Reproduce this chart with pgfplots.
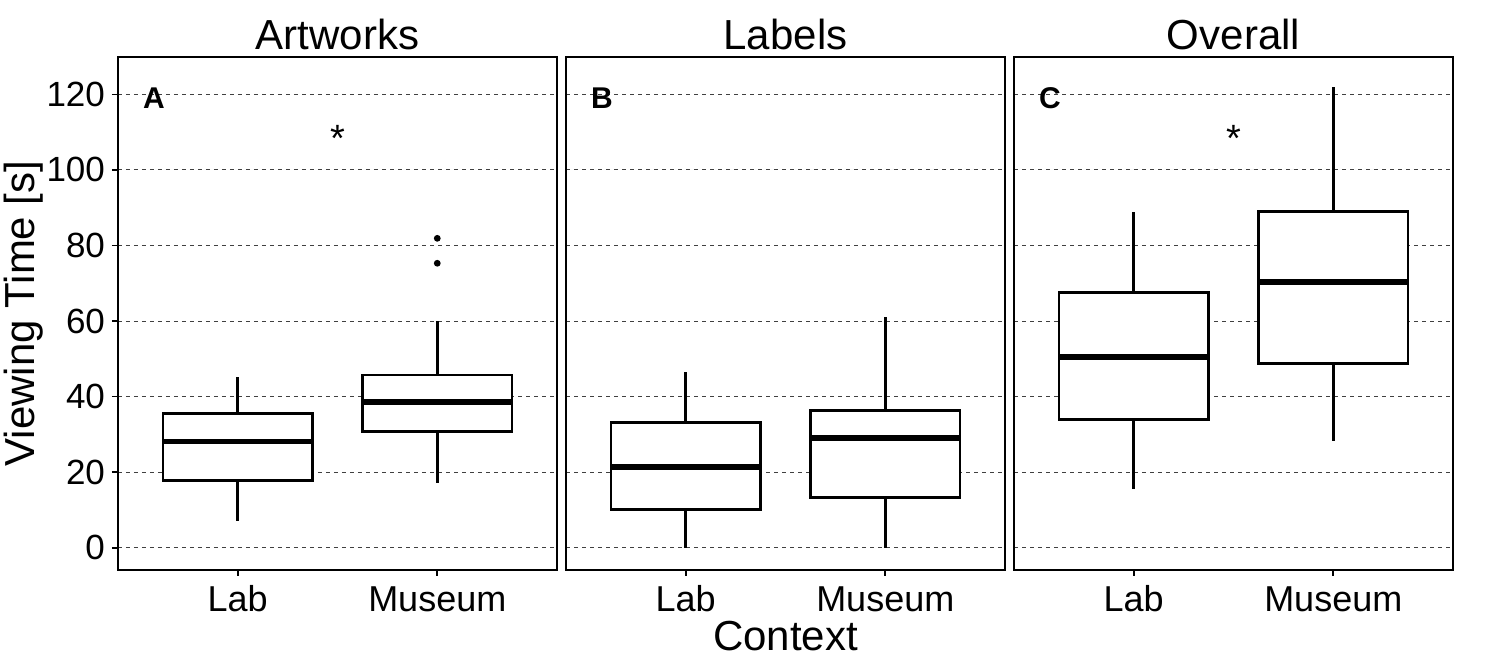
\documentclass[border=0pt]{standalone}
\usepackage{pgfplots}
\pgfplotsset{compat=1.18}
\usepgfplotslibrary{statistics}
\usepackage{fontspec}
\setmainfont{Liberation Sans}

\pgfplotsset{
  panel/.style={
    scale only axis, width=219.5pt, height=256.5pt,
    xmin=0.4, xmax=2.6, ymin=-5.9, ymax=129.9,
    xtick={1,2}, xticklabels={Lab,Museum},
    ytick={0,20,40,60,80,100,120},
    ymajorgrids, grid style={dash pattern=on 2pt off 2pt, line width=0.5pt, black!75},
    axis line style={line width=0.8pt, black},
    tick align=outside, xtick pos=bottom, ytick pos=left,
    major tick length=3pt,
    tick style={line width=0.8pt, black},
    xticklabel style={font=\fontsize{18}{21}\selectfont, anchor=base, yshift=-18pt},
    yticklabel style={font=\fontsize{17.5}{21}\selectfont},
    /pgf/number format/assume math mode=true,
    clip=false,
    boxplot/draw direction=y,
    boxplot/every box/.style={draw=black, fill=white, line width=1.35pt},
    boxplot/every whisker/.style={line width=1.25pt},
    boxplot/every median/.style={line width=2.7pt},
  },
  bx/.style={black, line width=1.3pt, solid, mark=*, mark size=1pt, mark options={fill=black, draw=black, solid}},
}

\begin{document}
\begin{tikzpicture}
\useasboundingbox (0,0) rectangle (745pt,334.5pt);

% Panel A
\begin{axis}[panel, at={(59pt,49.5pt)}, anchor=south west]
\addplot[bx, boxplot prepared={median=28.1, upper quartile=35.5, lower quartile=17.7,
  upper whisker=45.3, lower whisker=7.1, draw position=1, box extend=0.75, whisker extend=0}]
  coordinates {};
\addplot[bx, boxplot prepared={median=38.6, upper quartile=45.7, lower quartile=30.7,
  upper whisker=60.0, lower whisker=17.0, draw position=2, box extend=0.75, whisker extend=0}]
  table[row sep=\\, y index=0] {y\\ 81.9\\ 75.3\\};
\node[anchor=center, inner sep=0pt, font=\fontsize{15}{18}\selectfont\bfseries] at (axis cs:0.58,119.0) {A};
\node[anchor=north, inner sep=0pt, font=\fontsize{19}{22}\selectfont] at (axis cs:1.5,111.9) {*};
\node[anchor=base, font=\fontsize{21}{25}\selectfont] at (rel axis cs:0.5,1) [yshift=3.5pt] {Artworks};
\node[anchor=base, rotate=90, font=\fontsize{21}{25}\selectfont] at ([xshift=-41.5pt]rel axis cs:0,0.5) {Viewing Time [s]};
\end{axis}

% Panel B
\begin{axis}[panel, at={(283pt,49.5pt)}, anchor=south west, yticklabels={}, ytick style={draw=none}]
\addplot[bx, boxplot prepared={median=21.4, upper quartile=33.2, lower quartile=10.2,
  upper whisker=46.5, lower whisker=0, draw position=1, box extend=0.75, whisker extend=0}]
  coordinates {};
\addplot[bx, boxplot prepared={median=29.0, upper quartile=36.4, lower quartile=13.3,
  upper whisker=61.0, lower whisker=0, draw position=2, box extend=0.75, whisker extend=0}]
  coordinates {};
\node[anchor=center, inner sep=0pt, font=\fontsize{15}{18}\selectfont\bfseries] at (axis cs:0.58,119.0) {B};
\node[anchor=base, font=\fontsize{21}{25}\selectfont] at (rel axis cs:0.5,1) [yshift=3.5pt] {Labels};
\node[anchor=base, font=\fontsize{21}{25}\selectfont] at (rel axis cs:0.5,0) [yshift=-40.5pt] {Context};
\end{axis}

% Panel C
\begin{axis}[panel, at={(507pt,49.5pt)}, anchor=south west, yticklabels={}, ytick style={draw=none}]
\addplot[bx, boxplot prepared={median=50.5, upper quartile=67.6, lower quartile=33.9,
  upper whisker=88.9, lower whisker=15.6, draw position=1, box extend=0.75, whisker extend=0}]
  coordinates {};
\addplot[bx, boxplot prepared={median=70.3, upper quartile=89.0, lower quartile=48.7,
  upper whisker=121.9, lower whisker=28.2, draw position=2, box extend=0.75, whisker extend=0}]
  coordinates {};
\node[anchor=center, inner sep=0pt, font=\fontsize{15}{18}\selectfont\bfseries] at (axis cs:0.58,119.0) {C};
\node[anchor=north, inner sep=0pt, font=\fontsize{19}{22}\selectfont] at (axis cs:1.5,111.9) {*};
\node[anchor=base, font=\fontsize{21}{25}\selectfont] at (rel axis cs:0.5,1) [yshift=3.5pt] {Overall};
\end{axis}
\end{tikzpicture}
\end{document}
